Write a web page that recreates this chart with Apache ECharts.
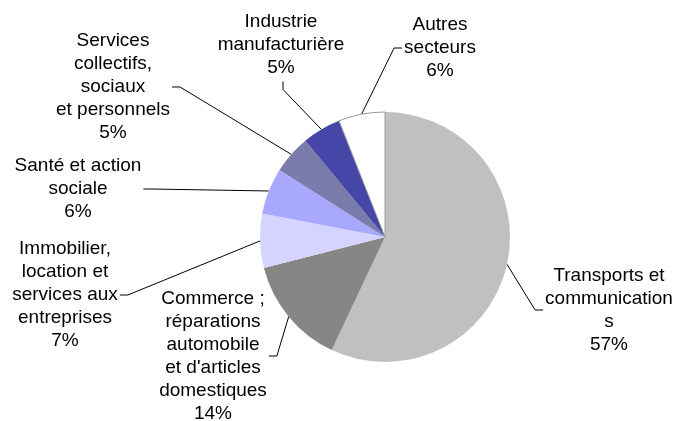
<!DOCTYPE html>
<html>
<head>
<meta charset="utf-8">
<script src="https://cdn.jsdelivr.net/npm/echarts/dist/echarts.min.js"></script>
<style>
  body { margin: 0; background: #fff; }
  #chart { width: 678px; height: 421px; }
</style>
</head>
<body>
<div id="chart"></div>
<script>
// data, clockwise from 12 o'clock
var sectors = [
  'Transports et\ncommunication\ns',
  "Commerce ;\nréparations\nautomobile\net d'articles\ndomestiques",
  'Immobilier,\nlocation et\nservices aux\nentreprises',
  'Santé et action\nsociale',
  'Services\ncollectifs,\nsociaux\net personnels',
  'Industrie\nmanufacturière',
  'Autres\nsecteurs'
];
var shares = [57, 14, 7, 6, 5, 5, 6];
var sliceColors = ['#c0c0c0', '#868686', '#d4d4ff', '#a8a8ff', '#7b7bab', '#4646a8', '#ffffff'];

// where each label block sits (centre, px)
var labelCenters = [[609, 310], [213, 356], [65, 295], [78, 189], [113, 87], [281, 45], [440, 48]];

var FONT_SIZE = 19, LINE_H = 23;
var measureCtx = document.createElement('canvas').getContext('2d');
measureCtx.font = FONT_SIZE + 'px "Liberation Sans"';

function blockSize(text) {
  var lines = String(text).split('\n');
  var w = 0;
  lines.forEach(function (l) { w = Math.max(w, measureCtx.measureText(l).width); });
  return { w: w, h: lines.length * LINE_H };
}

var chart = echarts.init(document.getElementById('chart'));

chart.setOption({
  animation: false,
  series: [{
    type: 'pie',
    center: [385, 237],
    radius: 125,
    startAngle: 90,
    clockwise: true,
    avoidLabelOverlap: false,
    emphasis: { disabled: true },
    data: sectors.map(function (name, i) {
      var item = { name: name, value: shares[i], itemStyle: { color: sliceColors[i] } };
      if (sliceColors[i] === '#ffffff') {
        item.itemStyle.borderColor = '#9a9a9a';
        item.itemStyle.borderWidth = 1;
      }
      return item;
    }),
    label: {
      show: true,
      position: 'outside',
      formatter: '{b}\n{c}%',
      color: '#000',
      fontFamily: 'Liberation Sans',
      fontSize: FONT_SIZE,
      lineHeight: LINE_H,
      overflow: 'none'
    },
    labelLine: {
      show: true,
      length: 10,
      length2: 10,
      lineStyle: { color: '#000', width: 1 }
    },
    labelLayout: function (params) {
      var c = labelCenters[params.dataIndex];
      var x = c[0], y = c[1];
      var b = blockSize(params.text);
      var a = params.labelLinePoints[0];
      var gap = 2, stub = 8, pts;
      if (a[0] > x - b.w / 2 && a[0] < x + b.w / 2) {
        var dy = a[1] > y ? 1 : -1;
        var yEdge = y + dy * (b.h / 2 + gap);
        pts = [a, [x + 2, yEdge + dy * stub], [x + 2, yEdge]];
      } else {
        var dx = a[0] > x ? 1 : -1;
        var xEdge = x + dx * (b.w / 2 + gap);
        pts = [a, [xEdge + dx * stub, y], [xEdge, y]];
      }
      return {
        x: x,
        y: y,
        align: 'center',
        verticalAlign: 'middle',
        labelLinePoints: pts
      };
    }
  }]
});
</script>
</body>
</html>
